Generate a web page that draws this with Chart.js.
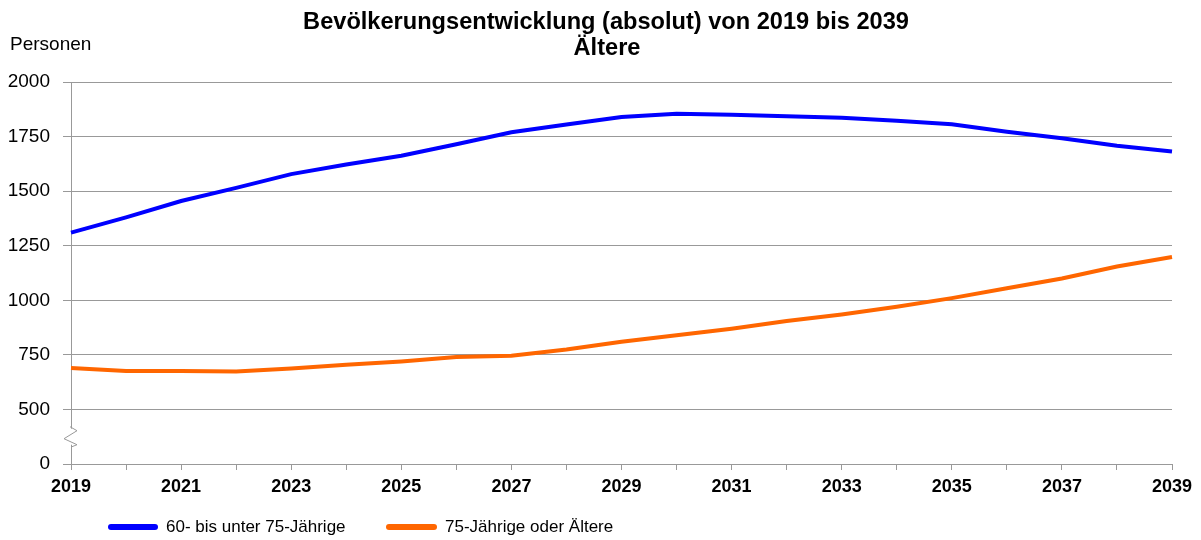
<!DOCTYPE html>
<html>
<head>
<meta charset="utf-8">
<script src="https://cdn.jsdelivr.net/npm/chart.js@4/dist/chart.umd.min.js"></script>
<style>
  html, body { margin: 0; padding: 0; background: #fff; }
  #wrap { width: 1201px; height: 540px; }
</style>
</head>
<body>
<div id="wrap"><canvas id="chart" width="1201" height="540"></canvas></div>
<script>
const years = ["2019", "2020", "2021", "2022", "2023", "2024", "2025", "2026", "2027", "2028", "2029",
  "2030", "2031", "2032", "2033", "2034", "2035", "2036", "2037", "2038", "2039"];
const seriesNames = ["60- bis unter 75-Jährige", "75-Jährige oder Ältere"];
const mittlere = [1310, 1380, 1455, 1515, 1578, 1622, 1662, 1715, 1770, 1805, 1840,
  1855, 1850, 1843, 1836, 1822, 1806, 1772, 1742, 1708, 1682];
const aeltere = [690, 676, 676, 674, 688, 705, 720, 740, 746, 775, 810,
  840, 870, 905, 935, 970, 1010, 1055, 1100, 1155, 1198];
const yTicks = [250, 500, 750, 1000, 1250, 1500, 1750, 2000];
const colors = ["#0000ff", "#ff6600"];
const FONT = "'Liberation Sans', Arial, sans-serif";

const extras = {
  id: "extras",
  afterDraw(chart) {
    const ctx = chart.ctx;
    const y = chart.scales.y;
    const area = chart.chartArea;
    ctx.save();
    // title
    ctx.fillStyle = "#000";
    ctx.textAlign = "center";
    ctx.textBaseline = "alphabetic";
    ctx.font = "bold 23.6px " + FONT;
    ctx.fillText("Bevölkerungsentwicklung (absolut) von 2019 bis 2039", 606, 29);
    ctx.fillText("Ältere", 607, 55);
    // unit
    ctx.textAlign = "left";
    ctx.textBaseline = "middle";
    ctx.font = "19px " + FONT;
    ctx.fillText("Personen", 10, 45);
    // axis break
    const yb = y.getPixelForValue(375);
    ctx.fillStyle = "#fff";
    ctx.fillRect(area.left - 2, yb - 8, 4, 16);
    ctx.strokeStyle = "#999";
    ctx.lineWidth = 1;
    ctx.beginPath();
    ctx.moveTo(area.left - 1, yb - 10);
    ctx.lineTo(area.left + 6, yb - 6);
    ctx.lineTo(area.left - 7, yb + 2);
    ctx.lineTo(area.left + 6, yb + 8);
    ctx.lineTo(area.left + 1, yb + 10);
    ctx.stroke();
    // legend
    ctx.font = "17px " + FONT;
    ctx.fillStyle = "#000";
    const items = [[108, 158, seriesNames[0]], [386, 437, seriesNames[1]]];
    items.forEach(([x0, x1, label], i) => {
      ctx.strokeStyle = colors[i];
      ctx.lineWidth = 6;
      ctx.lineCap = "round";
      ctx.beginPath();
      ctx.moveTo(x0 + 3, 527);
      ctx.lineTo(x1 - 3, 527);
      ctx.stroke();
      ctx.fillText(label, x1 + 8, 527);
    });
    ctx.restore();
  }
};

new Chart(document.getElementById("chart").getContext("2d"), {
  type: "line",
  data: {
    labels: years,
    datasets: [
      {
        label: seriesNames[0],
        data: mittlere,
        borderColor: colors[0],
        backgroundColor: colors[0],
        borderWidth: 4,
        pointRadius: 0,
        tension: 0,
      },
      {
        label: seriesNames[1],
        data: aeltere,
        borderColor: colors[1],
        backgroundColor: colors[1],
        borderWidth: 4,
        pointRadius: 0,
        tension: 0,
      },
    ],
  },
  options: {
    responsive: false,
    animation: false,
    layout: { padding: { left: 0, right: 29, top: 82, bottom: 36 } },
    plugins: {
      legend: { display: false },
      title: { display: false },
      tooltip: { enabled: false },
    },
    scales: {
      x: {
        offset: false,
        grid: { drawOnChartArea: false, drawTicks: true, tickLength: 6, color: "#999" },
        border: { color: "#999", width: 1 },
        afterFit(scale) { scale.height = 40; },
        ticks: {
          autoSkip: false,
          maxRotation: 0,
          color: "#000",
          padding: 6,
          font: { family: FONT, size: 18, weight: "bold" },
          callback(value, index) { return index % 2 === 0 ? years[index] : ""; },
        },
      },
      y: {
        min: 250,
        max: 2000,
        afterBuildTicks(scale) { scale.ticks = yTicks.map(v => ({ value: v })); },
        afterFit(scale) { scale.width = 71; },
        grid: { color: "#999", tickLength: 8 },
        border: { color: "#999", width: 1 },
        ticks: {
          color: "#000",
          padding: 13,
          font: { family: FONT, size: 19 },
          callback(value) { return value === 250 ? "0" : String(value); },
        },
      },
    },
  },
  plugins: [extras],
});
</script>
</body>
</html>
